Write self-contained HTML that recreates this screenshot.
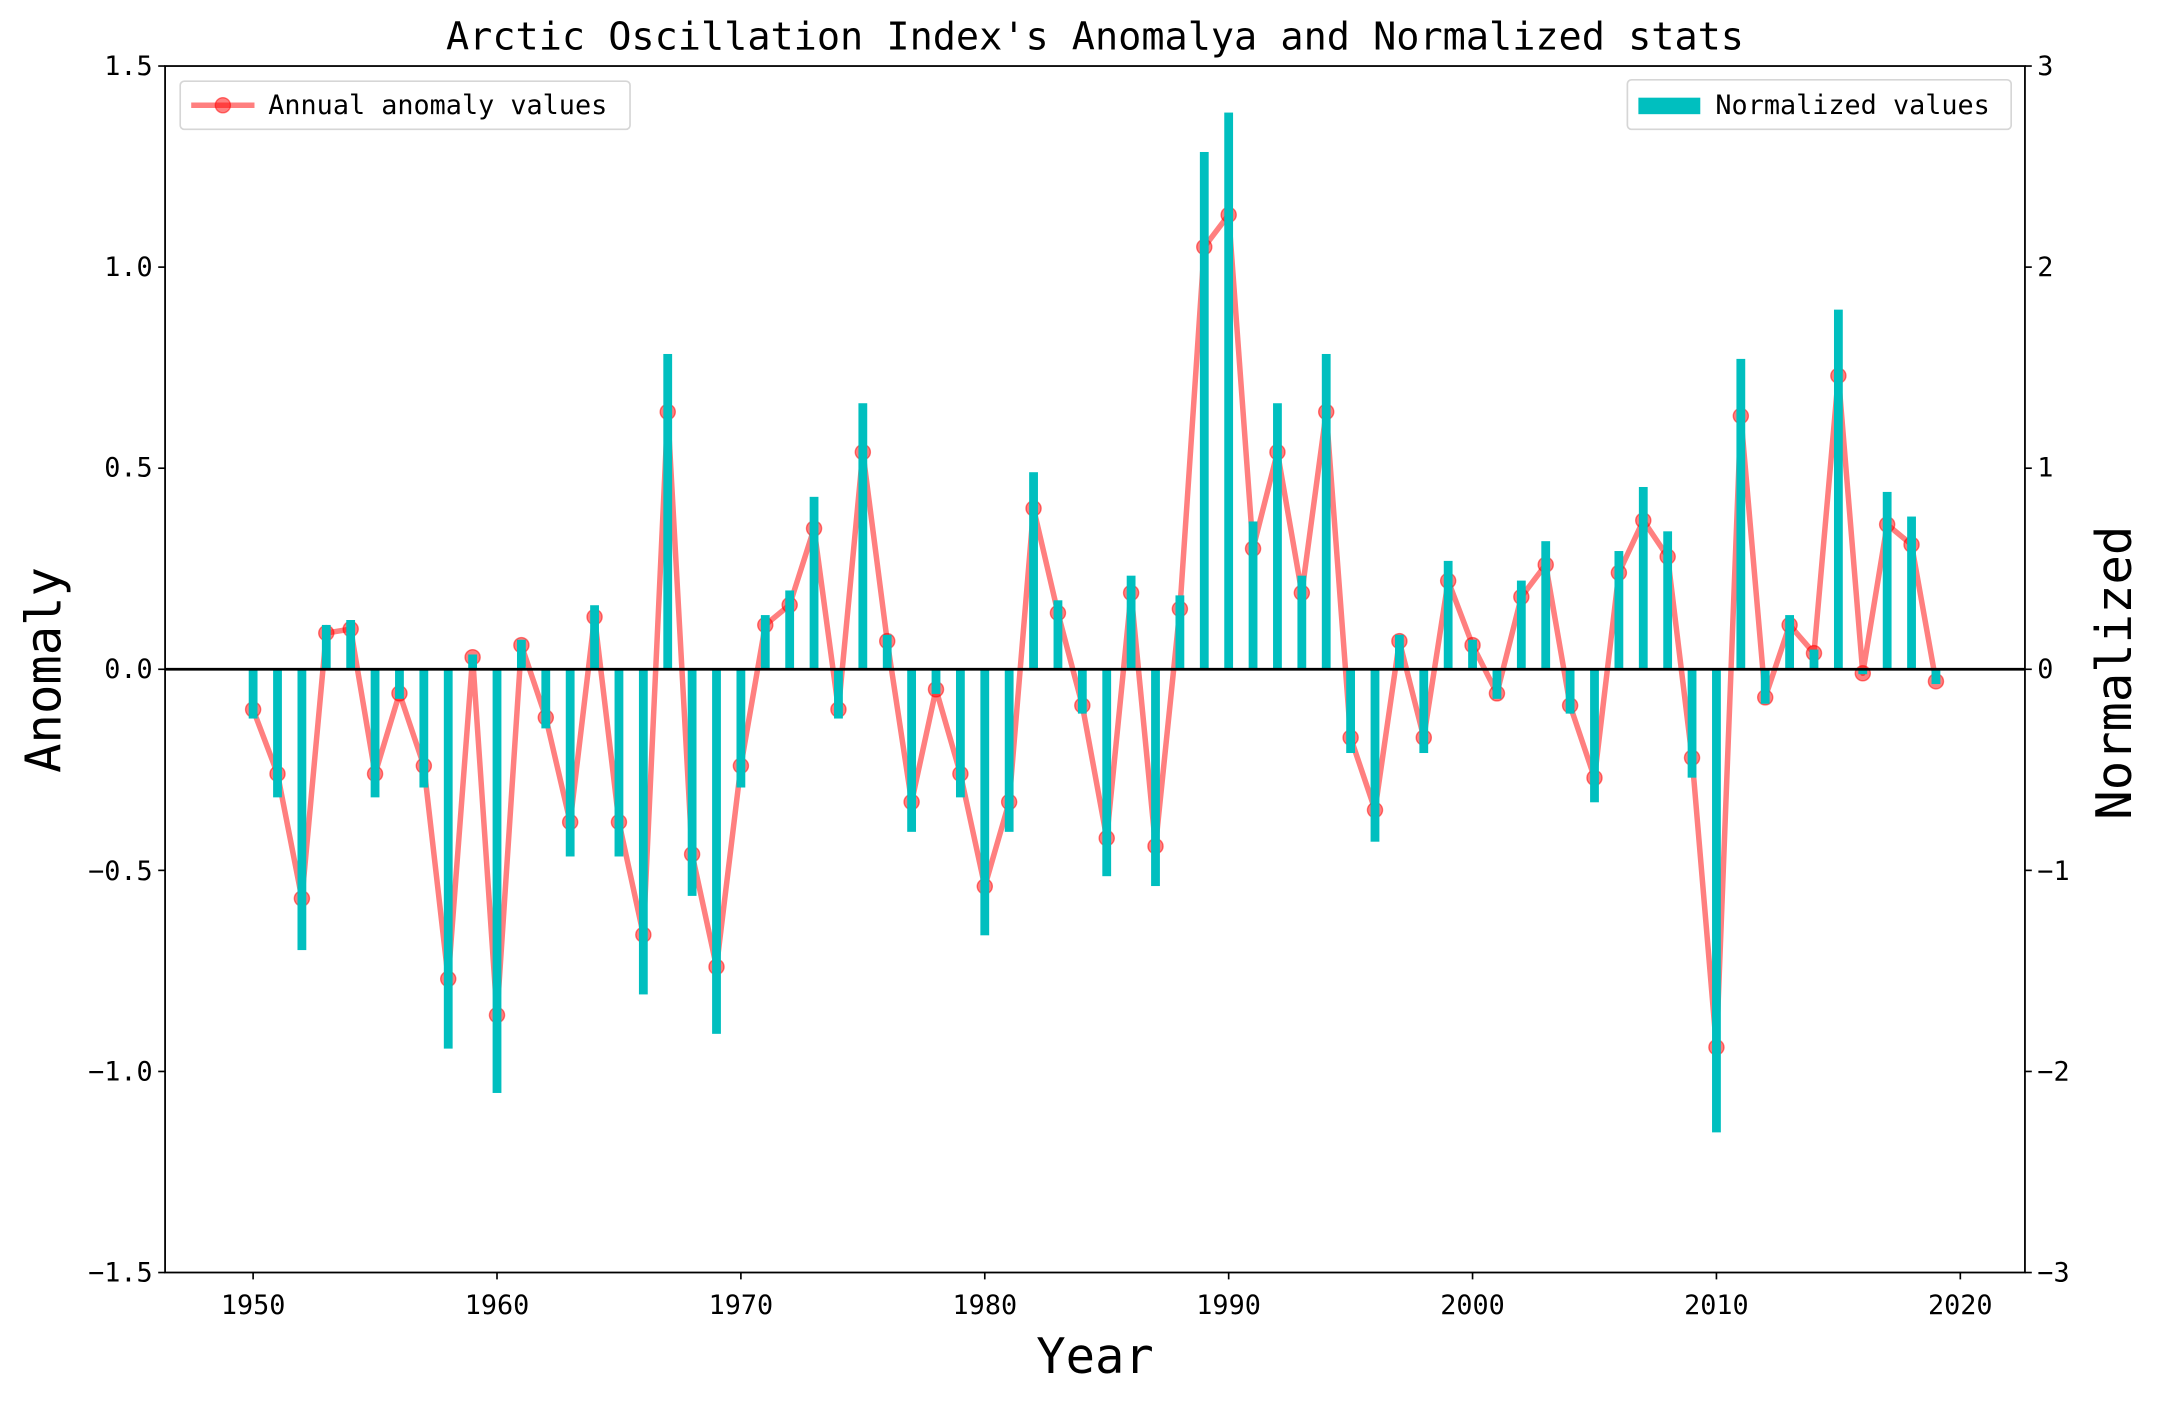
<!DOCTYPE html>
<html><head><meta charset="utf-8"><style>
html,body{margin:0;padding:0;background:#fff;}
svg{display:block;}
text{font-family:"DejaVu Sans Mono","Liberation Mono",monospace;fill:#000;}
</style></head><body>
<svg id="s" width="2157" height="1401" viewBox="0 0 1568 1018.4" preserveAspectRatio="none" xmlns="http://www.w3.org/2000/svg">
<rect x="0" y="0" width="1568" height="1018.4" fill="#fff"/>
<g id="line"></g>
<line x1="120" y1="486.5" x2="1472" y2="486.5" stroke="#000" stroke-width="2"/>
<rect x="120" y="48" width="1352" height="877" fill="none" stroke="#000" stroke-width="1.3"/>
<g id="ticks" stroke="#000" stroke-width="1.2"></g>
<g font-size="19.5" text-anchor="end">
<text x="111" y="54.5">1.5</text>
<text x="111" y="200.5">1.0</text>
<text x="111" y="346.5">0.5</text>
<text x="111" y="493">0.0</text>
<text x="111" y="639.5">−0.5</text>
<text x="111" y="785.5">−1.0</text>
<text x="111" y="931.5">−1.5</text>
</g>
<g font-size="19.5" text-anchor="start">
<text x="1481" y="54.5">3</text>
<text x="1481" y="200.5">2</text>
<text x="1481" y="346.5">1</text>
<text x="1481" y="493">0</text>
<text x="1481" y="639.5">−1</text>
<text x="1481" y="785.5">−2</text>
<text x="1481" y="931.5">−3</text>
</g>
<g font-size="19.5" text-anchor="middle">
<text x="184" y="955">1950</text>
<text x="361.3" y="955">1960</text>
<text x="538.6" y="955">1970</text>
<text x="715.9" y="955">1980</text>
<text x="893.1" y="955">1990</text>
<text x="1070.4" y="955">2000</text>
<text x="1247.7" y="955">2010</text>
<text x="1425" y="955">2020</text>
</g>
<text x="796" y="36" font-size="28" text-anchor="middle">Arctic Oscillation Index's Anomalya and Normalized stats</text>
<text x="796" y="998" font-size="35.5" text-anchor="middle">Year</text>
<text transform="translate(44,487) rotate(-90)" font-size="35.5" text-anchor="middle">Anomaly</text>
<text transform="translate(1549,489) rotate(-90)" font-size="35.5" text-anchor="middle">Normalized</text>
<rect x="131" y="59" width="327" height="35" rx="3" fill="#fff" fill-opacity="0.8" stroke="#d6d6d6" stroke-width="1.2"/>
<line x1="139" y1="76.5" x2="185" y2="76.5" stroke="#ff7f7f" stroke-width="4"/>
<circle cx="162" cy="76.5" r="5.5" fill="#ff0000" fill-opacity="0.5" stroke="#ff0000" stroke-opacity="0.5"/>
<text x="195" y="83" font-size="19.5">Annual anomaly values</text>
<rect x="1183" y="58" width="279" height="36" rx="3" fill="#fff" fill-opacity="0.8" stroke="#d6d6d6" stroke-width="1.2"/>
<rect x="1191" y="71" width="45" height="12" fill="#00bfbf"/>
<text x="1247" y="83" font-size="19.5">Normalized values</text>
</svg>
<script>
var a=[-0.10,-0.26,-0.57,0.09,0.10,-0.26,-0.06,-0.24,-0.77,0.03,-0.86,0.06,-0.12,-0.38,0.13,-0.38,-0.66,0.64,-0.46,-0.74,-0.24,0.11,0.16,0.35,-0.10,0.54,0.07,-0.33,-0.05,-0.26,-0.54,-0.33,0.40,0.14,-0.09,-0.42,0.19,-0.44,0.15,1.05,1.13,0.30,0.54,0.19,0.64,-0.17,-0.35,0.07,-0.17,0.22,0.06,-0.06,0.18,0.26,-0.09,-0.27,0.24,0.37,0.28,-0.22,-0.94,0.63,-0.07,0.11,0.04,0.73,-0.01,0.36,0.31,-0.03];
var NS="http://www.w3.org/2000/svg";
function X(y){return 184+(y-1950)*17.729;}
function Y(v){return 486.5-v*292.33;}
function el(t,at,p){var e=document.createElementNS(NS,t);for(var k in at)e.setAttribute(k,at[k]);p.appendChild(e);return e;}
var line=document.getElementById('line'),ticks=document.getElementById('ticks');
var pts=[];
for(var i=0;i<a.length;i++){pts.push(X(1950+i)+','+Y(a[i]));}
el('polyline',{points:pts.join(' '),fill:'none',stroke:'#ff7f7f','stroke-width':4,'stroke-linejoin':'round'},line);
for(var i=0;i<a.length;i++){
 el('circle',{cx:X(1950+i),cy:Y(a[i]),r:5.5,fill:'#ff0000','fill-opacity':0.5,stroke:'#ff0000','stroke-opacity':0.5},line);
}
for(var i=0;i<a.length;i++){
 var x=X(1950+i),h=a[i]*2.45*146.17;
 el('rect',{x:x-3.2,y:Math.min(486.5,486.5-h),width:6.4,height:Math.abs(h),fill:'#00bfbf'},line);
}
for(var k=0;k<8;k++){var x=X(1950+k*10);el('line',{x1:x,y1:925,x2:x,y2:930},ticks);}
for(var k=0;k<7;k++){var y=48+k*146.17;el('line',{x1:115,y1:y,x2:120,y2:y},ticks);el('line',{x1:1472,y1:y,x2:1477,y2:y},ticks);}
</script>
</body></html>
